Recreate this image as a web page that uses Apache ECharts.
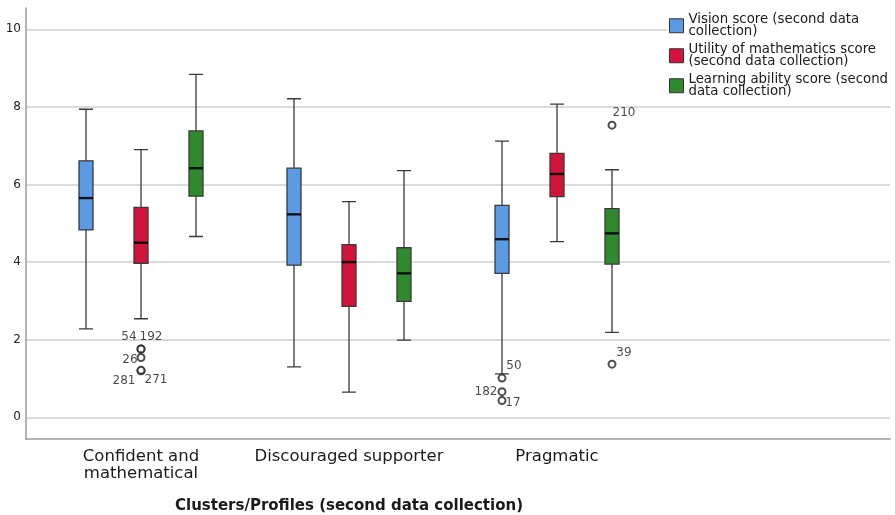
<!DOCTYPE html>
<html>
<head>
<meta charset="utf-8">
<script src="https://cdn.jsdelivr.net/npm/echarts@6/dist/echarts.min.js"></script>
<style>html,body{margin:0;padding:0;background:#fff}#c{width:895px;height:515px}</style>
</head>
<body>
<div id="c"></div>
<script>
// ---- data ----
const categories = ['Confident and mathematical', 'Discouraged supporter', 'Pragmatic'];
const seriesNames = [
  'Vision score (second data collection)',
  'Utility of mathematics score (second data collection)',
  'Learning ability score (second data collection)'
];
// [lower whisker, Q1, median, Q3, upper whisker]
const visionBox   = [[2.28, 4.83, 5.65, 6.61, 7.94], [1.30, 3.92, 5.23, 6.42, 8.21], [1.12, 3.71, 4.59, 5.46, 7.12]];
const utilityBox  = [[2.54, 3.97, 4.50, 5.41, 6.90], [0.65, 2.86, 4.00, 4.45, 5.56], [4.53, 5.69, 6.27, 6.80, 8.07]];
const learningBox = [[4.66, 5.70, 6.42, 7.38, 8.84], [1.99, 2.99, 3.71, 4.37, 6.36], [2.19, 3.95, 4.74, 5.38, 6.38]];
const visionOutliers   = [{cat: 'Pragmatic', value: 1.01, id: '50'}, {cat: 'Pragmatic', value: 0.66, id: '182'}, {cat: 'Pragmatic', value: 0.43, id: '17'}];
const utilityOutliers  = [{cat: 'Confident and mathematical', value: 1.76, id: '54'}, {cat: 'Confident and mathematical', value: 1.76, id: '192'},
                          {cat: 'Confident and mathematical', value: 1.54, id: '26'}, {cat: 'Confident and mathematical', value: 1.20, id: '281'},
                          {cat: 'Confident and mathematical', value: 1.21, id: '271'}];
const learningOutliers = [{cat: 'Pragmatic', value: 7.53, id: '210'}, {cat: 'Pragmatic', value: 1.37, id: '39'}];
const yMin = 0, yMax = 10, yStep = 2;
const xTitle = 'Clusters/Profiles (second data collection)';

// ---- styles ----
const colors = ['#5b9ae4', '#d3133c', '#2e8a2c'];
const labelOffsets = { '50': [12, -12], '182': [-16, 0], '17': [11, 2], '54': [-12, -12], '192': [10, -12],
  '26': [-11, 2], '281': [-17, 10], '271': [15, 10], '210': [12, -12], '39': [12, -11] };
const FONT = 'DejaVu Sans';
const plotTop = 29.3, plotBottom = 515 - 417.3;
const bandLeft = 37, bandWidth = 624, seriesShift = 55;

const boxes = [visionBox, utilityBox, learningBox];
const outs = [visionOutliers, utilityOutliers, learningOutliers];

const grids = [], xAxes = [], yAxes = [], series = [];
// 0: background grid with gridlines & y labels
grids.push({left: 26, right: 5, top: plotTop, bottom: plotBottom, outerBoundsMode: 'none'});
xAxes.push({gridIndex: 0, type: 'value', show: false});
yAxes.push({gridIndex: 0, type: 'value', min: yMin, max: yMax, interval: yStep,
  axisLine: {show: false}, axisTick: {show: false},
  axisLabel: {color: '#222', fontFamily: FONT, fontSize: 12, margin: 5},
  splitLine: {lineStyle: {color: '#cfcfcf', width: 1.5}}});
// 1: frame grid (axis lines)
grids.push({left: 26, right: 5, top: 8, bottom: 515 - 438.7, outerBoundsMode: 'none'});
xAxes.push({gridIndex: 1, type: 'value', min: 0, max: 1, axisLine: {show: true, onZero: false, lineStyle: {color: '#9a9a9a', width: 1.5}},
  axisTick: {show: false}, axisLabel: {show: false}, splitLine: {show: false}});
yAxes.push({gridIndex: 1, type: 'value', min: 0, max: 1, axisLine: {show: true, lineStyle: {color: '#9a9a9a', width: 1.5}},
  axisTick: {show: false}, axisLabel: {show: false}, splitLine: {show: false}});
// box grids
for (let k = 0; k < 3; k++) {
  const gi = grids.length;
  grids.push({left: bandLeft + (k - 1) * seriesShift, width: bandWidth, top: plotTop, bottom: plotBottom, outerBoundsMode: 'none'});
  const ax = {gridIndex: gi, type: 'category', data: categories, boundaryGap: true,
    axisLine: {show: false}, axisTick: {show: false}, splitLine: {show: false},
    axisLabel: {show: false}};
  if (k === 1) {
    ax.offset = 21.4;
    ax.axisLabel = {show: true, interval: 0, color: '#1a1a1a', fontFamily: FONT, fontSize: 16.5, lineHeight: 17, margin: 10,
      formatter: v => v.replace('and ', 'and\n')};
    ax.name = xTitle;
    ax.nameLocation = 'middle';
    ax.nameGap = 60;
    ax.nameTextStyle = {color: '#1a1a1a', fontFamily: FONT, fontSize: 15, fontWeight: 'bold', verticalAlign: 'top'};
  }
  xAxes.push(ax);
  yAxes.push({gridIndex: gi, type: 'value', min: yMin, max: yMax, show: false, splitLine: {show: false}});
  series.push({
    name: seriesNames[k], type: 'boxplot', xAxisIndex: gi, yAxisIndex: gi,
    boxWidth: [14, 14], z: 3,
    itemStyle: {color: colors[k], borderColor: '#3a3a3a', borderWidth: 1.3},
    emphasis: {disabled: true},
    data: boxes[k]
  });
  // thicker median bar, drawn from the same box arrays
  series.push({
    name: seriesNames[k] + ' median', type: 'scatter', xAxisIndex: gi, yAxisIndex: gi, z: 4,
    symbol: 'rect', symbolSize: [14, 2.4],
    itemStyle: {color: '#000'},
    emphasis: {disabled: true},
    data: boxes[k].map((b, i) => [categories[i], b[2]])
  });
  series.push({
    name: seriesNames[k] + ' outliers', type: 'scatter', xAxisIndex: gi, yAxisIndex: gi, z: 5,
    symbol: 'emptyCircle', symbolSize: 7,
    itemStyle: {color: '#222', borderColor: '#222', borderWidth: 1},
    emphasis: {disabled: true},
    data: outs[k].map(o => ({value: [o.cat, o.value],
      label: {show: true, formatter: o.id, position: 'inside', offset: labelOffsets[o.id] || [10, -10],
        color: '#1a1a1a', fontFamily: FONT, fontSize: 12}}))
  });
}

const chart = echarts.init(document.getElementById('c'), null, {renderer: 'canvas'});
chart.setOption({
  animation: false,
  backgroundColor: '#fff',
  grid: grids, xAxis: xAxes, yAxis: yAxes,
  legend: {
    data: seriesNames.map((n, k) => ({name: n, icon: 'rect',
      itemStyle: {color: colors[k], borderColor: '#333', borderWidth: 1}})),
    orient: 'vertical', left: 667, top: 8,
    padding: [5, 5, 5, 2], itemGap: 4.5, itemWidth: 14, itemHeight: 14,
    backgroundColor: '#fff', selectedMode: false,
    textStyle: {color: '#1a1a1a', fontFamily: FONT, fontSize: 13.3, lineHeight: 12.5},
    formatter: n => n.startsWith('Vision') ? n.replace('data ', 'data\n')
      : (n.startsWith('Utility') ? n.replace('score ', 'score\n') : n.replace('second ', 'second\n'))
  },
  series: series
});
</script>
</body>
</html>
